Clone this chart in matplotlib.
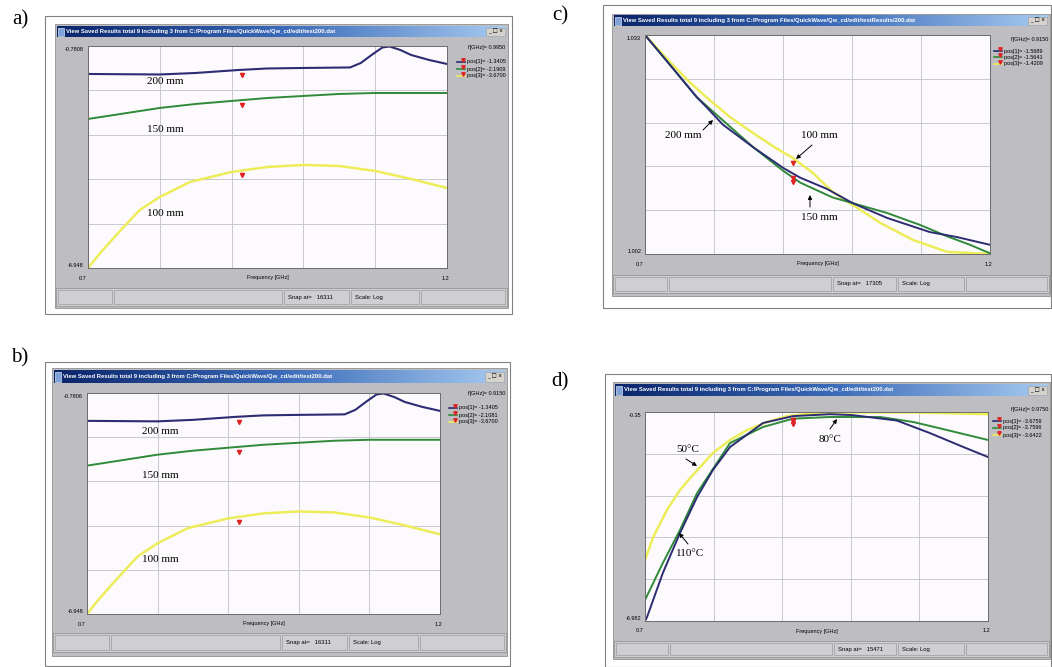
import numpy as np
import matplotlib.pyplot as plt
from matplotlib.patches import Rectangle
from matplotlib.colors import LinearSegmentedColormap
from matplotlib.transforms import offset_copy

W, H = 1052, 667

# ---------------- data ----------------
# a) and b): three thicknesses, 0.7 - 1.2 GHz (same run shown twice)
f_200 = [0.70, 0.80, 0.85, 0.91, 0.95, 1.00, 1.065, 1.08, 1.095, 1.11, 1.12, 1.135, 1.15, 1.175, 1.20]
v_200 = [-1.558, -1.572, -1.530, -1.447, -1.405, -1.391, -1.377, -1.252, -1.030, -0.822, -0.794,
         -0.891, -1.030, -1.169, -1.280]
f_150 = [0.70, 0.75, 0.80, 0.85, 0.90, 0.95, 1.00, 1.05, 1.10, 1.15, 1.20]
v_150 = [-2.808, -2.655, -2.502, -2.391, -2.308, -2.225, -2.169, -2.113, -2.086, -2.086, -2.086]
f_100 = [0.70, 0.717, 0.742, 0.772, 0.80, 0.842, 0.90, 0.95, 1.00, 1.05, 1.10, 1.15, 1.20]
v_100 = [-6.948, -6.531, -5.975, -5.336, -4.975, -4.558, -4.280, -4.141, -4.086, -4.114, -4.252,
         -4.475, -4.725]

# c) normalised curves for the three thicknesses
fc_200 = [0.700, 0.736, 0.775, 0.790, 0.813, 0.857, 0.900, 0.925, 0.964, 1.001, 1.051, 1.113, 1.152, 1.200]
vc_200 = [1.0330, 1.0288, 1.0242, 1.0227, 1.0203, 1.0171, 1.0142, 1.0128, 1.0112, 1.0092, 1.0071,
          1.0051, 1.0044, 1.0033]
fc_150 = [0.700, 0.736, 0.775, 0.857, 0.900, 0.925, 0.972, 1.001, 1.051, 1.099, 1.138, 1.171, 1.200]
vc_150 = [1.0330, 1.0288, 1.0242, 1.0171, 1.0138, 1.0121, 1.0100, 1.0092, 1.0078, 1.0061, 1.0045,
          1.0033, 1.0021]
fc_100 = [0.700, 0.736, 0.765, 0.790, 0.823, 0.857, 0.888, 0.914, 0.943, 0.972, 0.997, 1.041, 1.088,
          1.138, 1.200]
vc_100 = [1.0330, 1.0292, 1.0263, 1.0241, 1.0214, 1.0191, 1.0171, 1.0156, 1.0135, 1.0108, 1.0092,
          1.0064, 1.0040, 1.0023, 1.0020]

# d) three temperatures
fd_50 = [0.700, 0.712, 0.732, 0.751, 0.766, 0.799, 0.824, 0.849, 0.878, 0.907, 0.945, 0.994, 1.091, 1.200]
vd_50 = [-5.046, -4.317, -3.460, -2.825, -2.444, -1.651, -1.238, -0.921, -0.667, -0.480, -0.390,
         -0.365, -0.365, -0.420]
fd_80 = [0.700, 0.726, 0.751, 0.776, 0.824, 0.872, 0.916, 0.970, 1.043, 1.091, 1.140, 1.200]
vd_80 = [-6.316, -5.142, -4.094, -2.920, -1.334, -0.826, -0.560, -0.509, -0.509, -0.667, -0.921, -1.238]
fd_110 = [0.700, 0.703, 0.726, 0.751, 0.776, 0.799, 0.824, 0.872, 0.916, 0.970, 1.003, 1.067, 1.115,
          1.164, 1.200]
vd_110 = [-6.982, -6.855, -5.459, -4.190, -3.047, -2.190, -1.461, -0.699, -0.480, -0.420, -0.450,
          -0.620, -1.016, -1.461, -1.778]

marker_f = {'a': 0.915, 'b': 0.915, 'c': 0.914, 'd': 0.916}
ylims = {'a': (-6.948, -0.7808), 'b': (-6.948, -0.7806), 'c': (1.002, 1.033), 'd': (-6.982, -0.35)}
ytext = {'a': ('-0.7808', '-6.948'), 'b': ('-0.7806', '-6.948'), 'c': ('1.033', '1.002'), 'd': ('-0.35', '-6.982')}
legend_f = {'a': 'f[GHz]= 0.9950', 'b': 'f[GHz]= 0.9150', 'c': 'f[GHz]= 0.9150', 'd': 'f[GHz]= 0.9750'}
legend_pos = {
    'a': ['pos[1]= -1.3405', 'pos[2]= -2.1909', 'pos[3]= -3.6700'],
    'b': ['pos[1]= -1.3405', 'pos[2]= -2.1081', 'pos[3]= -3.6700'],
    'c': ['pos[1]= -1.5689', 'pos[2]= -1.5641', 'pos[3]= -1.4209'],
    'd': ['pos[1]= -3.6759', 'pos[2]= -3.7596', 'pos[3]= -3.6422'],
}
snap = {'a': '16311', 'b': '16311', 'c': '17305', 'd': '15471'}
titles = {
    'a': 'View Saved Results total 9 including 3 from C:/Program Files/QuickWave/Qw_cd/edit/test200.dat',
    'b': 'View Saved Results total 9 including 3 from C:/Program Files/QuickWave/Qw_cd/edit/test200.dat',
    'c': 'View Saved Results total 9 including 3 from C:/Program Files/QuickWave/Qw_cd/edit/testResults/200.dat',
    'd': 'View Saved Results total 9 including 3 from C:/Program Files/QuickWave/Qw_cd/edit/test200.dat',
}

# colours
GRAY = '#bebdc2'
STATUS = '#cfcfd3'
PLOT_BG = '#fdfafd'
GRID = '#c9c8d0'
NAVY = '#2c2c72'
GREEN = '#2f8a3a'
YELLOW = '#eded5a'
RED = '#e02424'
UI = ['Liberation Sans', 'DejaVu Sans']
SERIF = 'Liberation Serif'

title_cmap = LinearSegmentedColormap.from_list('tb', ['#0a246a', '#3a6ab8', '#a6caf0'])
grad = np.linspace(0, 1, 256).reshape(1, -1)

fig = plt.figure(figsize=(W / 100, H / 100), dpi=100)
bg = fig.add_axes([0, 0, 1, 1])
bg.set_zorder(0)
top = fig.add_axes([0, 0, 1, 1])
top.set_zorder(5)
top.patch.set_alpha(0)


def draw_window(key, frame, win, tb, st, plot):
    fx0, fy0, fx1, fy1 = frame
    bg.add_patch(Rectangle((fx0, fy0), fx1 - fx0, fy1 - fy0, fc='white', ec='#808080', lw=0.8))
    wx0, wy0, wx1, wy1 = win
    bg.add_patch(Rectangle((wx0, wy0), wx1 - wx0, wy1 - wy0, fc=GRAY, ec='#909090', lw=0.6))
    # title bar
    ty0, ty1 = tb
    bg.imshow(grad, cmap=title_cmap, extent=(wx0 + 2, wx1 - 2, ty1, ty0), aspect='auto', zorder=2)
    bg.add_patch(Rectangle((wx0 + 3, ty0 + 1.5), 6, ty1 - ty0 - 3, fc='#7fa2d8', ec='white', lw=0.4, zorder=3))
    bg.text(wx0 + 11, (ty0 + ty1) / 2, titles[key], color='white', fontsize=4.2, fontweight='bold',
            va='center', ha='left', zorder=3, family=UI)
    bg.add_patch(Rectangle((wx1 - 22, ty0 + 1.5), 19, ty1 - ty0 - 3, fc='#d6d3cc', ec='#9a9a9a',
                           lw=0.4, zorder=3))
    bg.text(wx1 - 12.5, (ty0 + ty1) / 2, '_ □ x', fontsize=4, va='center', ha='center', zorder=4,
            family='DejaVu Sans')
    # status bar
    sy0, sy1 = st
    bg.add_patch(Rectangle((wx0 + 1, sy0), wx1 - wx0 - 2, sy1 - sy0, fc=STATUS, ec='#8c8c8c', lw=0.5))
    fr = [0.004, 0.128, 0.503, 0.651, 0.806, 0.995]
    xs = [wx0 + f * (wx1 - wx0) for f in fr]
    for i in range(len(xs) - 1):
        bg.add_patch(Rectangle((xs[i] + 1, sy0 + 2), xs[i + 1] - xs[i] - 2, sy1 - sy0 - 4,
                               fc='none', ec='#9a9a9a', lw=0.5))
    sm = (sy0 + sy1) / 2
    bg.text(xs[2] + 5, sm, 'Snap at=   ' + snap[key], fontsize=4.2, va='center', family=UI)
    bg.text(xs[3] + 5, sm, 'Scale: Log', fontsize=4.2, va='center', family=UI)
    # axis texts
    px0, py0, px1, py1 = plot
    bg.text(px0 - 4, py0 + 1, ytext[key][0], fontsize=4, ha='right', va='top', family=UI)
    bg.text(px0 - 4, py1, ytext[key][1], fontsize=4, ha='right', va='bottom', family=UI)
    bg.text(px0 - 5, py1 + 10, '0.7', fontsize=4, ha='center', va='center', family=UI)
    bg.text(px1 - 2, py1 + 10, '1.2', fontsize=4, ha='center', va='center', family=UI)
    bg.text((px0 + px1) / 2, py1 + 10, 'Frequency [GHz]', fontsize=4, ha='center', va='center', family=UI)


def draw_legend(key, x0, x1, y_f, ys):
    bg.text(x1, y_f, legend_f[key], ha='right', va='center', fontsize=4, family=UI)
    for y, txt, c in zip(ys, legend_pos[key], [NAVY, GREEN, YELLOW]):
        bg.plot([x0, x0 + 8], [y, y], color=c, lw=1.2, zorder=3)
        bg.plot([x0 + 6], [y - 2], marker='v', ms=2.5, color=RED, zorder=4)
        bg.text(x0 + 10, y, txt, fontsize=4, va='center', ha='left', family=UI)


def make_plot(key, plot):
    px0, py0, px1, py1 = plot
    ax = fig.add_axes([px0 / W, 1 - py1 / H, (px1 - px0) / W, (py1 - py0) / H])
    ax.set_zorder(2)
    ax.set_facecolor(PLOT_BG)
    lo, hi = ylims[key]
    ax.set_xlim(0.7, 1.2)
    ax.set_ylim(lo, hi)
    ax.set_xticks(np.linspace(0.7, 1.2, 6))
    ax.set_yticks(np.linspace(lo, hi, 6))
    ax.tick_params(length=0, labelbottom=False, labelleft=False)
    ax.grid(True, color=GRID, lw=0.7)
    for s in ax.spines.values():
        s.set_color('#6c6c6c')
        s.set_linewidth(0.7)
    return ax


def curve(ax, key, f, v, color, lw):
    ax.plot(f, v, color=color, lw=lw, solid_joinstyle='round')
    mf = marker_f[key]
    mv = np.interp(mf, f, v)
    tr = offset_copy(ax.transData, fig=fig, x=0, y=-5, units='dots')
    ax.plot([mf], [mv], marker='v', ms=3, color=RED, transform=tr, clip_on=False, zorder=5)


def label(x, y, s, size=8):
    top.text(x, y, s, fontsize=size, family=SERIF, ha='center', va='center')


def arrow(tail, tip):
    top.annotate('', xy=tip, xytext=tail,
                 arrowprops=dict(arrowstyle='-|>', lw=0.7, color='black', mutation_scale=6,
                                 shrinkA=0, shrinkB=0))


# ---------------- panel a ----------------
plot_a = (88, 46, 447, 268)
draw_window('a', (45, 16, 512, 314), (55, 24, 508, 308), (26, 37), (288, 306), plot_a)
draw_legend('a', 457, 505, 47, [62, 69, 76])
ax = make_plot('a', plot_a)
curve(ax, 'a', f_100, v_100, YELLOW, 1.8)
curve(ax, 'a', f_150, v_150, GREEN, 1.4)
curve(ax, 'a', f_200, v_200, NAVY, 1.5)
label(165, 82, '200 mm')
label(165, 129, '150 mm')
label(165, 213, '100 mm')

# ---------------- panel b ----------------
plot_b = (87, 393, 440, 614)
draw_window('b', (45, 362, 510, 666), (52, 368, 507, 656), (370, 383), (633, 652), plot_b)
draw_legend('b', 449, 505, 394, [408, 415, 422])
ax = make_plot('b', plot_b)
curve(ax, 'b', f_100, v_100, YELLOW, 1.8)
curve(ax, 'b', f_150, v_150, GREEN, 1.4)
curve(ax, 'b', f_200, v_200, NAVY, 1.5)
label(160, 431, '200 mm')
label(160, 475, '150 mm')
label(160, 560, '100 mm')

# ---------------- panel c ----------------
plot_c = (645, 35, 990, 254)
draw_window('c', (603, 5, 1051, 308), (612, 14, 1050, 296), (15, 26), (275, 293), plot_c)
draw_legend('c', 994, 1048, 40, [51, 57, 64])
ax = make_plot('c', plot_c)
curve(ax, 'c', fc_100, vc_100, YELLOW, 1.8)
curve(ax, 'c', fc_150, vc_150, GREEN, 1.4)
curve(ax, 'c', fc_200, vc_200, NAVY, 1.4)
label(683, 135, '200 mm')
arrow((703, 130), (713, 120))
label(819, 135, '100 mm')
arrow((812, 145), (796, 159))
label(819, 217, '150 mm')
arrow((810, 207), (810, 195))

# ---------------- panel d ----------------
plot_d = (645, 412, 988, 621)
draw_window('d', (605, 374, 1051, 667), (613, 382, 1050, 659), (384, 396), (641, 657), plot_d)
draw_legend('d', 993, 1048, 409, [421, 428, 435])
ax = make_plot('d', plot_d)
curve(ax, 'd', fd_50, vd_50, YELLOW, 1.8)
curve(ax, 'd', fd_80, vd_80, GREEN, 1.4)
curve(ax, 'd', fd_110, vd_110, NAVY, 1.4)
label(688, 450, '50°C')
arrow((686, 459), (697, 466))
label(830, 439, '80°C')
arrow((830, 429), (837, 419))
label(690, 553, '110°C')
arrow((688, 544), (679, 533))

# panel letters
for s, (x, y) in zip(['a)', 'b)', 'c)', 'd)'], [(20, 20), (20, 358), (560, 16), (560, 382)]):
    top.text(x, y, s, fontsize=15, family=SERIF, ha='center', va='center')

for a in (bg, top):
    a.set_xlim(0, W)
    a.set_ylim(H, 0)
    a.axis('off')

fig.savefig('out.png', dpi=100, facecolor='white')
